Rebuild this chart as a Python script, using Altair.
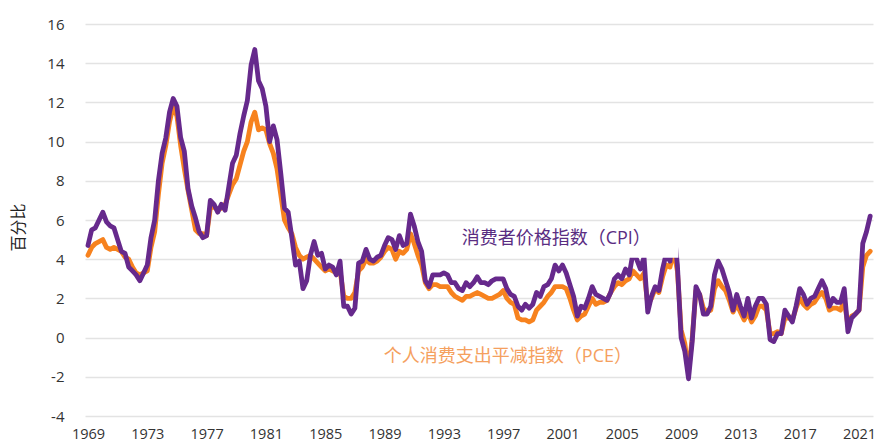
import altair as alt
import pandas as pd

# Year-over-year inflation, sampled Jan/Apr/Jul/Oct, 1969 - Oct 2021 (percent)
cpi = [
    4.7, 5.5, 5.6, 6.0,    # 1969
    6.4, 5.9, 5.7, 5.6,    # 1970
    5.0, 4.4, 4.3, 3.6,    # 1971
    3.4, 3.2, 2.9, 3.3,    # 1972
    3.7, 5.1, 6.0, 8.0,    # 1973
    9.4, 10.2, 11.5, 12.2, # 1974
    11.8, 10.2, 9.5, 7.6,  # 1975
    6.7, 6.1, 5.4, 5.1,    # 1976
    5.2, 7.0, 6.8, 6.4,    # 1977
    6.8, 6.5, 7.7, 8.9,    # 1978
    9.3, 10.4, 11.3, 12.1, # 1979
    13.9, 14.7, 13.1, 12.7,# 1980
    11.8, 10.0, 10.8, 10.1,# 1981
    8.4, 6.6, 6.4, 5.1,    # 1982
    3.7, 3.9, 2.5, 2.9,    # 1983
    4.2, 4.9, 4.2, 4.3,    # 1984
    3.5, 3.7, 3.6, 3.2,    # 1985
    3.9, 1.6, 1.6, 1.2,    # 1986
    1.5, 3.8, 3.9, 4.5,    # 1987
    4.0, 3.9, 4.1, 4.2,    # 1988
    4.7, 5.1, 5.0, 4.5,    # 1989
    5.2, 4.7, 4.8, 6.3,    # 1990
    5.7, 4.9, 4.4, 2.9,    # 1991
    2.6, 3.2, 3.2, 3.2,    # 1992
    3.3, 3.2, 2.8, 2.8,    # 1993
    2.5, 2.4, 2.8, 2.6,    # 1994
    2.8, 3.1, 2.8, 2.8,    # 1995
    2.7, 2.9, 3.0, 3.0,    # 1996
    3.0, 2.5, 2.2, 2.1,    # 1997
    1.6, 1.4, 1.7, 1.5,    # 1998
    1.7, 2.3, 2.1, 2.6,    # 1999
    2.7, 3.0, 3.7, 3.4,    # 2000
    3.7, 3.3, 2.7, 2.1,    # 2001
    1.1, 1.6, 1.5, 2.0,    # 2002
    2.6, 2.2, 2.1, 2.0,    # 2003
    1.9, 2.3, 3.0, 3.2,    # 2004
    3.0, 3.5, 3.2, 4.3,    # 2005
    4.0, 3.5, 4.1, 1.3,    # 2006
    2.1, 2.6, 2.4, 3.5,    # 2007
    4.3, 3.9, 5.6, 3.7,    # 2008
    0.0, -0.7, -2.1, -0.2, # 2009
    2.6, 2.2, 1.2, 1.2,    # 2010
    1.6, 3.2, 3.9, 3.5,    # 2011
    2.9, 2.3, 1.4, 2.2,    # 2012
    1.6, 1.1, 2.0, 1.0,    # 2013
    1.6, 2.0, 2.0, 1.7,    # 2014
    -0.1, -0.2, 0.2, 0.2,  # 2015
    1.4, 1.1, 0.8, 1.6,    # 2016
    2.5, 2.2, 1.7, 2.0,    # 2017
    2.1, 2.5, 2.9, 2.5,    # 2018
    1.6, 2.0, 1.8, 1.8,    # 2019
    2.5, 0.3, 1.0, 1.2,    # 2020
    1.4, 4.8, 5.4, 6.2,    # 2021
]

pce = [
    4.2, 4.6, 4.8, 4.9,    # 1969
    5.0, 4.6, 4.5, 4.6,    # 1970
    4.5, 4.4, 4.1, 4.0,    # 1971
    3.6, 3.3, 3.2, 3.3,    # 1972
    3.4, 4.6, 5.4, 7.3,    # 1973
    8.9, 9.8, 11.0, 11.8,  # 1974
    11.3, 9.8, 8.6, 7.5,   # 1975
    6.5, 5.5, 5.3, 5.3,    # 1976
    5.2, 6.6, 6.7, 6.5,    # 1977
    6.6, 6.8, 7.3, 7.8,    # 1978
    8.1, 8.8, 9.5, 10.0,   # 1979
    11.0, 11.5, 10.6, 10.7,# 1980
    10.6, 9.9, 9.4, 8.6,   # 1981
    7.3, 6.0, 5.6, 5.3,    # 1982
    4.6, 4.2, 4.0, 4.1,    # 1983
    4.2, 4.0, 3.8, 3.6,    # 1984
    3.4, 3.5, 3.4, 3.3,    # 1985
    3.4, 2.1, 2.0, 2.0,    # 1986
    2.3, 3.4, 3.6, 4.0,    # 1987
    3.8, 3.8, 3.9, 4.1,    # 1988
    4.4, 4.6, 4.5, 4.0,    # 1989
    4.4, 4.3, 4.5, 5.3,    # 1990
    4.8, 4.2, 3.7, 2.8,    # 1991
    2.5, 2.7, 2.7, 2.6,    # 1992
    2.6, 2.6, 2.3, 2.1,    # 1993
    2.0, 1.9, 2.1, 2.1,    # 1994
    2.2, 2.3, 2.2, 2.1,    # 1995
    2.0, 2.0, 2.1, 2.2,    # 1996
    2.4, 2.0, 1.8, 1.7,    # 1997
    1.0, 0.9, 0.9, 0.8,    # 1998
    0.9, 1.4, 1.6, 1.8,    # 1999
    2.1, 2.3, 2.6, 2.6,    # 2000
    2.6, 2.5, 2.0, 1.4,    # 2001
    0.9, 1.1, 1.2, 1.6,    # 2002
    2.0, 1.7, 1.8, 1.8,    # 2003
    1.9, 2.3, 2.6, 2.8,    # 2004
    2.7, 2.9, 3.0, 3.4,    # 2005
    3.2, 3.0, 3.3, 1.7,    # 2006
    2.0, 2.5, 2.3, 3.1,    # 2007
    3.7, 3.6, 4.4, 3.4,    # 2008
    0.4, -0.3, -1.7, 0.0,  # 2009
    2.4, 2.2, 1.5, 1.3,    # 2010
    1.4, 2.5, 2.9, 2.6,    # 2011
    2.4, 1.9, 1.3, 1.7,    # 2012
    1.3, 0.9, 1.3, 0.8,    # 2013
    1.1, 1.6, 1.6, 1.4,    # 2014
    0.2, 0.2, 0.3, 0.2,    # 2015
    1.0, 1.0, 0.9, 1.5,    # 2016
    2.0, 1.7, 1.5, 1.7,    # 2017
    1.8, 2.1, 2.3, 2.0,    # 2018
    1.4, 1.5, 1.5, 1.4,    # 2019
    1.9, 0.6, 1.1, 1.2,    # 2020
    1.4, 3.6, 4.2, 4.4,    # 2021
]

year_ticks = [1969, 1973, 1977, 1981, 1985, 1989, 1993, 1997, 2001, 2005, 2009, 2013, 2017, 2021]
y_ticks = [-4, -2, 0, 2, 4, 6, 8, 10, 12, 14, 16]

cpi_label = "消费者价格指数（CPI）"
pce_label = "个人消费支出平减指数（PCE）"

PURPLE = "#66298c"
ORANGE = "#f7821e"
FONT = "Open Sans, Noto Sans CJK SC, sans-serif"

df_cpi = pd.DataFrame({"t": [1969 + i * 0.25 for i in range(len(cpi))], "v": cpi})
df_pce = pd.DataFrame({"t": [1969 + i * 0.25 for i in range(len(pce))], "v": pce})

x_scale = alt.Scale(domain=[1968.8, 2021.94], nice=False, zero=False)
y_scale = alt.Scale(domain=[-4, 16], nice=False, zero=False)

x_axis = alt.Axis(values=year_ticks, format="d", grid=False, domain=False, ticks=False,
                  tickSize=0, labelPadding=11, labelFontSize=14.5, labelColor="#333333",
                  labelFont=FONT, labelFlush=False, labelOverlap=False, labelBound=False,
                  title=None)
y_axis = alt.Axis(values=y_ticks, grid=True, gridColor="#e3e3e3", gridWidth=1.5,
                  domain=False, ticks=False, tickSize=0, labelPadding=21,
                  labelFontSize=15, labelColor="#333333", labelFont=FONT,
                  labelOverlap=False, labelExpr="'' + datum.value",
                  title="百分比", titleFont=FONT, titleFontSize=16, titleFontWeight="normal",
                  titleColor="#222222", titleAngle=270, titleX=-67, titleY=203,
                  titleAlign="center", titleBaseline="middle")


def xe(field):
    return alt.X(field, type="quantitative", scale=x_scale, axis=x_axis)


def ye(field):
    return alt.Y(field, type="quantitative", scale=y_scale, axis=y_axis)


pce_line = alt.Chart(df_pce).mark_line(
    color=ORANGE, strokeWidth=4.8, strokeJoin="round", strokeCap="round"
).encode(x=xe("t"), y=ye("v"))

cpi_line = alt.Chart(df_cpi).mark_line(
    color=PURPLE, strokeWidth=4.8, strokeJoin="round", strokeCap="round"
).encode(x=xe("t"), y=ye("v"))

# white background behind the CPI annotation
box_df = pd.DataFrame({"t": [1994.0], "t2": [2008.82], "v": [4.08], "v2": [5.88]})
box = alt.Chart(box_df).mark_rect(color="white").encode(
    x=xe("t"), x2="t2:Q", y=ye("v"), y2="v2:Q",
)

lab_df_cpi = pd.DataFrame({"t": [1994.2], "v": [5.02], "txt": [cpi_label]})
lab_df_pce = pd.DataFrame({"t": [1988.95], "v": [-1.0], "txt": [pce_label]})

cpi_text = alt.Chart(lab_df_cpi).mark_text(
    align="left", baseline="middle", fontSize=18, font=FONT, color="#5a2d82"
).encode(x=xe("t"), y=ye("v"), text="txt:N")

pce_text = alt.Chart(lab_df_pce).mark_text(
    align="left", baseline="middle", fontSize=18, font=FONT, color="#f5a05e"
).encode(x=xe("t"), y=ye("v"), text="txt:N")

chart = alt.layer(pce_line, cpi_line, box, cpi_text, pce_text).properties(
    width=788, height=392,
    autosize=alt.AutoSizeParams(type="none"),
    padding={"left": 77, "top": 16, "right": 3, "bottom": 30},
    background="white",
).configure_view(stroke=None)

chart.save("out.html", embed_options={"renderer": "svg", "actions": False})
